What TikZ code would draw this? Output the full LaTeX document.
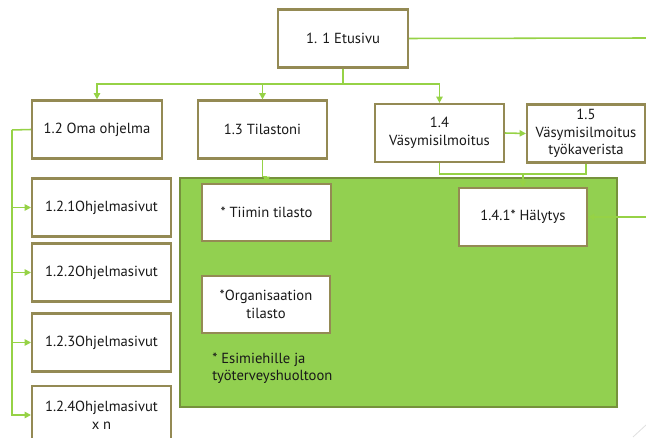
\documentclass[tikz,border=0pt]{standalone}
\usepackage{fontspec}
\setmainfont{PT Sans}
\usetikzlibrary{arrows.meta, positioning}
\definecolor{boxtan}{RGB}{148,138,84}
\definecolor{linkgreen}{RGB}{150,210,70}
\definecolor{areagreen}{RGB}{146,208,80}
\definecolor{areaedge}{RGB}{118,146,60}

\begin{document}
\begin{tikzpicture}[x=0.025cm, y=-0.025cm,
  page/.style={draw=boxtan, fill=white, line width=1.5pt, align=center,
               font=\fontsize{10.4}{12.6}\selectfont, text=black!90,
               inner sep=2pt, minimum height=1.45cm},
  link/.style={draw=linkgreen, line width=1.1pt},
  conn/.style={link, -{Triangle[length=4.5pt, width=4.5pt]}}
]
\clip[use as bounding box] (0,0) rectangle (646,438);

%--- Green area ---
\draw[fill=areagreen, draw=areaedge, line width=1.2pt] (180,178) rectangle (617,407);

%--- Pages ---
\node[page, minimum width=3.25cm]  (etu)   at (343,38.5)  {1. 1 Etusivu};
\node[page, minimum width=3.25cm]  (oma)   at (97,129.5)  {1.2 Oma ohjelma};
\node[page, minimum width=3.22cm]  (til)   at (262.5,129.5) {1.3 Tilastoni};
\node[page, minimum width=3.22cm]  (vas)   at (439.5,133) {1.4\\Väsymisilmoitus};
\node[page, minimum width=2.95cm]  (vas15) at (586,133.5) {1.5\\Väsymisilmoitus\\työkaverista};

\node[page, minimum width=3.47cm]  (s1) at (101.5,207.5) {1.2.1Ohjelmasivut};
\node[page, minimum width=3.47cm]  (s2) at (101.5,272.5) {1.2.2Ohjelmasivut};
\node[page, minimum width=3.47cm]  (s3) at (101.5,342.5) {1.2.3Ohjelmasivut};
\node[page, minimum width=3.47cm]  (s4) at (101.5,415)   {1.2.4Ohjelmasivut\\x n};

\node[page, minimum width=3.22cm, minimum height=1.42cm] (tiimi) at (266.5,212.5) {* Tiimin tilasto};
\node[page, minimum width=3.2cm, minimum height=1.42cm]  (org)   at (266,304.5)   {*Organisaation\\tilasto};
\node[page, minimum width=3.2cm]   (hal)   at (523,217)     {1.4.1* Hälytys};

\node[anchor=north west, align=left, inner sep=0pt, text=black!90,
      font=\fontsize{10.4}{11.8}\selectfont] (note) at (212,353)
      {* Esimiehille ja\\työterveyshuoltoon};

%--- Helper points ---
\coordinate (bus)   at (343,84);
\coordinate (trunk) at (12,130);
\coordinate (merge) at (523,174);
\coordinate (outR)  at (646,38);
\coordinate (inR)   at (646,217);

%--- Connectors ---
\draw[link] (etu.east) -- (outR);
\draw[conn] (etu.south) -- (bus) -| (oma.north);
\draw[conn] (bus) -| (til.north);
\draw[conn] (bus) -| (vas.north);
\draw[link] (oma.west) -- (trunk);
\foreach \s in {s1,s2,s3,s4}
  \draw[conn] (trunk) |- (\s.west);
\draw[conn] (til.south) -- ++(0,17) -| (tiimi.north);
\draw[conn] (vas.east) -- (vas15.west);
\draw[link] (vas.south) |- (merge) -| (vas15.south);
\draw[conn] (merge) -- (hal.north);
\draw[conn] (inR) -- (hal.east);

%--- Corner mark ---
\draw[black!12, line width=0.6pt] (633,437) -- (646,425);

\end{tikzpicture}
\end{document}
